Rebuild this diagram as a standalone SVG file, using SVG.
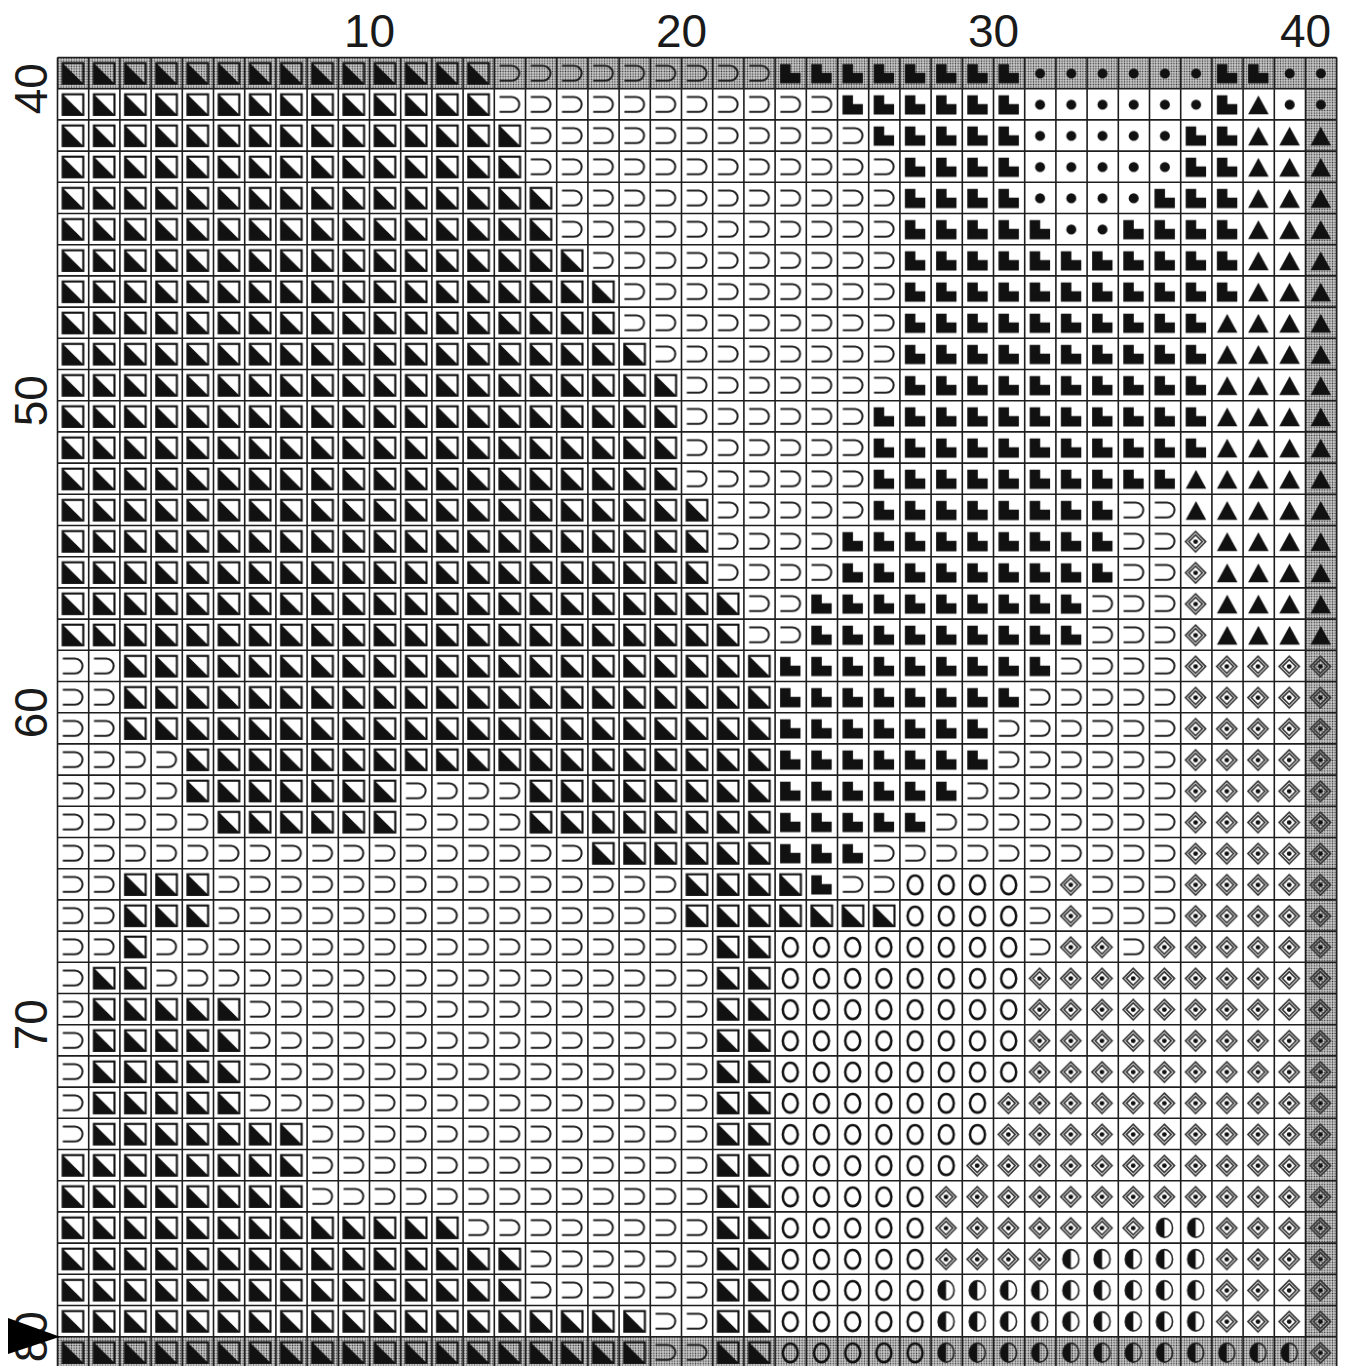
<svg xmlns="http://www.w3.org/2000/svg" width="1346" height="1366" viewBox="0 0 1346 1366">
<style>
.lbl{font-family:"Liberation Sans",Arial,sans-serif;font-size:46px;fill:#1a1a1a;text-anchor:middle}
.a{fill:url(#pA)}.b{fill:url(#pB)}.c{fill:url(#pC)}.d{fill:url(#pD)}.e{fill:url(#pE)}.f{fill:url(#pF)}.g{fill:url(#pG)}.h{fill:url(#pH)}
.sh{fill:url(#dots)}
</style>
<defs>
<pattern id="dots" patternUnits="userSpaceOnUse" width="2.6" height="2.6"><rect width="2.6" height="2.6" fill="#cfcfcf"/><circle cx="1.3" cy="1.3" r="0.8" fill="#3c3c3c"/></pattern>
<pattern id="pA" patternUnits="userSpaceOnUse" x="57.5" y="57.5" width="31.2" height="31.2"><rect x="5.2" y="5.6" width="20.6" height="20.6" fill="none" stroke="#111" stroke-width="2.1"/><path d="M5.2 5.6V26.2H25.8Z" fill="#111"/></pattern>
<pattern id="pB" patternUnits="userSpaceOnUse" x="57.5" y="57.5" width="31.2" height="31.2"><path d="M5.3 8.2H17.5A7.5 7.5 0 0 1 17.5 23.2H5.3" fill="none" stroke="#1e1e1e" stroke-width="2"/></pattern>
<pattern id="pC" patternUnits="userSpaceOnUse" x="57.5" y="57.5" width="31.2" height="31.2"><path d="M5 6.6H15.5V15.4H25.4V25.8H5Z" fill="#111"/></pattern>
<pattern id="pD" patternUnits="userSpaceOnUse" x="57.5" y="57.5" width="31.2" height="31.2"><circle cx="15.4" cy="16" r="5" fill="#111"/></pattern>
<pattern id="pE" patternUnits="userSpaceOnUse" x="57.5" y="57.5" width="31.2" height="31.2"><path d="M15.3 6.8L25.6 25.5H5Z" fill="#111"/></pattern>
<pattern id="pF" patternUnits="userSpaceOnUse" x="57.5" y="57.5" width="31.2" height="31.2"><path d="M14.9 6L25 16.2L14.9 26.4L4.8 16.2ZM14.9 9.4L21.7 16.2L14.9 23L8.1 16.2Z" fill="none" stroke="#333" stroke-width="1.6"/><circle cx="14.9" cy="16.2" r="2.4" fill="#111"/></pattern>
<pattern id="pG" patternUnits="userSpaceOnUse" x="57.5" y="57.5" width="31.2" height="31.2"><ellipse cx="15.2" cy="16.2" rx="7.5" ry="9.3" fill="none" stroke="#111" stroke-width="2.5"/></pattern>
<pattern id="pH" patternUnits="userSpaceOnUse" x="57.5" y="57.5" width="31.2" height="31.2"><ellipse cx="15" cy="16" rx="8" ry="9.5" fill="none" stroke="#222" stroke-width="1.6"/><path d="M15 6.5A8 9.5 0 0 0 15 25.5Z" fill="#111"/></pattern>
</defs>
<rect width="1346" height="1366" fill="#fff"/>
<g id="shading">
<rect class="sh" x="57.5" y="57.5" width="1279.2" height="31.2"/>
<rect class="sh" x="57.5" y="1336.7" width="1279.2" height="31.2"/>
<rect class="sh" x="1305.5" y="88.7" width="31.2" height="1248"/>
</g>
<g id="cells">
<rect class="a" x="57.5" y="57.5" width="436.8" height="31.2"/><rect class="b" x="494.3" y="57.5" width="280.8" height="31.2"/><rect class="c" x="775.1" y="57.5" width="249.6" height="31.2"/><rect class="d" x="1024.7" y="57.5" width="187.2" height="31.2"/><rect class="c" x="1211.9" y="57.5" width="62.4" height="31.2"/><rect class="d" x="1274.3" y="57.5" width="62.4" height="31.2"/>
<rect class="a" x="57.5" y="88.7" width="436.8" height="31.2"/><rect class="b" x="494.3" y="88.7" width="343.2" height="31.2"/><rect class="c" x="837.5" y="88.7" width="187.2" height="31.2"/><rect class="d" x="1024.7" y="88.7" width="187.2" height="31.2"/><rect class="c" x="1211.9" y="88.7" width="31.2" height="31.2"/><rect class="e" x="1243.1" y="88.7" width="31.2" height="31.2"/><rect class="d" x="1274.3" y="88.7" width="62.4" height="31.2"/>
<rect class="a" x="57.5" y="119.9" width="468" height="31.2"/><rect class="b" x="525.5" y="119.9" width="343.2" height="31.2"/><rect class="c" x="868.7" y="119.9" width="156" height="31.2"/><rect class="d" x="1024.7" y="119.9" width="156" height="31.2"/><rect class="c" x="1180.7" y="119.9" width="62.4" height="31.2"/><rect class="e" x="1243.1" y="119.9" width="93.6" height="31.2"/>
<rect class="a" x="57.5" y="151.1" width="468" height="31.2"/><rect class="b" x="525.5" y="151.1" width="374.4" height="31.2"/><rect class="c" x="899.9" y="151.1" width="124.8" height="31.2"/><rect class="d" x="1024.7" y="151.1" width="156" height="31.2"/><rect class="c" x="1180.7" y="151.1" width="62.4" height="31.2"/><rect class="e" x="1243.1" y="151.1" width="93.6" height="31.2"/>
<rect class="a" x="57.5" y="182.3" width="499.2" height="31.2"/><rect class="b" x="556.7" y="182.3" width="343.2" height="31.2"/><rect class="c" x="899.9" y="182.3" width="124.8" height="31.2"/><rect class="d" x="1024.7" y="182.3" width="124.8" height="31.2"/><rect class="c" x="1149.5" y="182.3" width="93.6" height="31.2"/><rect class="e" x="1243.1" y="182.3" width="93.6" height="31.2"/>
<rect class="a" x="57.5" y="213.5" width="499.2" height="31.2"/><rect class="b" x="556.7" y="213.5" width="343.2" height="31.2"/><rect class="c" x="899.9" y="213.5" width="156" height="31.2"/><rect class="d" x="1055.9" y="213.5" width="62.4" height="31.2"/><rect class="c" x="1118.3" y="213.5" width="124.8" height="31.2"/><rect class="e" x="1243.1" y="213.5" width="93.6" height="31.2"/>
<rect class="a" x="57.5" y="244.7" width="530.4" height="31.2"/><rect class="b" x="587.9" y="244.7" width="312" height="31.2"/><rect class="c" x="899.9" y="244.7" width="343.2" height="31.2"/><rect class="e" x="1243.1" y="244.7" width="93.6" height="31.2"/>
<rect class="a" x="57.5" y="275.9" width="561.6" height="31.2"/><rect class="b" x="619.1" y="275.9" width="280.8" height="31.2"/><rect class="c" x="899.9" y="275.9" width="343.2" height="31.2"/><rect class="e" x="1243.1" y="275.9" width="93.6" height="31.2"/>
<rect class="a" x="57.5" y="307.1" width="561.6" height="31.2"/><rect class="b" x="619.1" y="307.1" width="280.8" height="31.2"/><rect class="c" x="899.9" y="307.1" width="312" height="31.2"/><rect class="e" x="1211.9" y="307.1" width="124.8" height="31.2"/>
<rect class="a" x="57.5" y="338.3" width="592.8" height="31.2"/><rect class="b" x="650.3" y="338.3" width="249.6" height="31.2"/><rect class="c" x="899.9" y="338.3" width="312" height="31.2"/><rect class="e" x="1211.9" y="338.3" width="124.8" height="31.2"/>
<rect class="a" x="57.5" y="369.5" width="624" height="31.2"/><rect class="b" x="681.5" y="369.5" width="218.4" height="31.2"/><rect class="c" x="899.9" y="369.5" width="312" height="31.2"/><rect class="e" x="1211.9" y="369.5" width="124.8" height="31.2"/>
<rect class="a" x="57.5" y="400.7" width="624" height="62.4"/><rect class="b" x="681.5" y="400.7" width="187.2" height="62.4"/><rect class="c" x="868.7" y="400.7" width="343.2" height="62.4"/><rect class="e" x="1211.9" y="400.7" width="124.8" height="62.4"/>
<rect class="a" x="57.5" y="463.1" width="624" height="31.2"/><rect class="b" x="681.5" y="463.1" width="187.2" height="31.2"/><rect class="c" x="868.7" y="463.1" width="312" height="31.2"/><rect class="e" x="1180.7" y="463.1" width="156" height="31.2"/>
<rect class="a" x="57.5" y="494.3" width="655.2" height="31.2"/><rect class="b" x="712.7" y="494.3" width="156" height="31.2"/><rect class="c" x="868.7" y="494.3" width="249.6" height="31.2"/><rect class="b" x="1118.3" y="494.3" width="62.4" height="31.2"/><rect class="e" x="1180.7" y="494.3" width="156" height="31.2"/>
<rect class="a" x="57.5" y="525.5" width="655.2" height="62.4"/><rect class="b" x="712.7" y="525.5" width="124.8" height="62.4"/><rect class="c" x="837.5" y="525.5" width="280.8" height="62.4"/><rect class="b" x="1118.3" y="525.5" width="62.4" height="62.4"/><rect class="f" x="1180.7" y="525.5" width="31.2" height="62.4"/><rect class="e" x="1211.9" y="525.5" width="124.8" height="62.4"/>
<rect class="a" x="57.5" y="587.9" width="686.4" height="62.4"/><rect class="b" x="743.9" y="587.9" width="62.4" height="62.4"/><rect class="c" x="806.3" y="587.9" width="280.8" height="62.4"/><rect class="b" x="1087.1" y="587.9" width="93.6" height="62.4"/><rect class="f" x="1180.7" y="587.9" width="31.2" height="62.4"/><rect class="e" x="1211.9" y="587.9" width="124.8" height="62.4"/>
<rect class="b" x="57.5" y="650.3" width="62.4" height="31.2"/><rect class="a" x="119.9" y="650.3" width="655.2" height="31.2"/><rect class="c" x="775.1" y="650.3" width="280.8" height="31.2"/><rect class="b" x="1055.9" y="650.3" width="124.8" height="31.2"/><rect class="f" x="1180.7" y="650.3" width="156" height="31.2"/>
<rect class="b" x="57.5" y="681.5" width="62.4" height="31.2"/><rect class="a" x="119.9" y="681.5" width="655.2" height="31.2"/><rect class="c" x="775.1" y="681.5" width="249.6" height="31.2"/><rect class="b" x="1024.7" y="681.5" width="156" height="31.2"/><rect class="f" x="1180.7" y="681.5" width="156" height="31.2"/>
<rect class="b" x="57.5" y="712.7" width="62.4" height="31.2"/><rect class="a" x="119.9" y="712.7" width="655.2" height="31.2"/><rect class="c" x="775.1" y="712.7" width="218.4" height="31.2"/><rect class="b" x="993.5" y="712.7" width="187.2" height="31.2"/><rect class="f" x="1180.7" y="712.7" width="156" height="31.2"/>
<rect class="b" x="57.5" y="743.9" width="124.8" height="31.2"/><rect class="a" x="182.3" y="743.9" width="592.8" height="31.2"/><rect class="c" x="775.1" y="743.9" width="218.4" height="31.2"/><rect class="b" x="993.5" y="743.9" width="187.2" height="31.2"/><rect class="f" x="1180.7" y="743.9" width="156" height="31.2"/>
<rect class="b" x="57.5" y="775.1" width="124.8" height="31.2"/><rect class="a" x="182.3" y="775.1" width="218.4" height="31.2"/><rect class="b" x="400.7" y="775.1" width="124.8" height="31.2"/><rect class="a" x="525.5" y="775.1" width="249.6" height="31.2"/><rect class="c" x="775.1" y="775.1" width="187.2" height="31.2"/><rect class="b" x="962.3" y="775.1" width="218.4" height="31.2"/><rect class="f" x="1180.7" y="775.1" width="156" height="31.2"/>
<rect class="b" x="57.5" y="806.3" width="156" height="31.2"/><rect class="a" x="213.5" y="806.3" width="187.2" height="31.2"/><rect class="b" x="400.7" y="806.3" width="124.8" height="31.2"/><rect class="a" x="525.5" y="806.3" width="249.6" height="31.2"/><rect class="c" x="775.1" y="806.3" width="156" height="31.2"/><rect class="b" x="931.1" y="806.3" width="249.6" height="31.2"/><rect class="f" x="1180.7" y="806.3" width="156" height="31.2"/>
<rect class="b" x="57.5" y="837.5" width="530.4" height="31.2"/><rect class="a" x="587.9" y="837.5" width="187.2" height="31.2"/><rect class="c" x="775.1" y="837.5" width="93.6" height="31.2"/><rect class="b" x="868.7" y="837.5" width="312" height="31.2"/><rect class="f" x="1180.7" y="837.5" width="156" height="31.2"/>
<rect class="b" x="57.5" y="868.7" width="62.4" height="31.2"/><rect class="a" x="119.9" y="868.7" width="93.6" height="31.2"/><rect class="b" x="213.5" y="868.7" width="468" height="31.2"/><rect class="a" x="681.5" y="868.7" width="124.8" height="31.2"/><rect class="c" x="806.3" y="868.7" width="31.2" height="31.2"/><rect class="b" x="837.5" y="868.7" width="62.4" height="31.2"/><rect class="g" x="899.9" y="868.7" width="124.8" height="31.2"/><rect class="b" x="1024.7" y="868.7" width="31.2" height="31.2"/><rect class="f" x="1055.9" y="868.7" width="31.2" height="31.2"/><rect class="b" x="1087.1" y="868.7" width="93.6" height="31.2"/><rect class="f" x="1180.7" y="868.7" width="156" height="31.2"/>
<rect class="b" x="57.5" y="899.9" width="62.4" height="31.2"/><rect class="a" x="119.9" y="899.9" width="93.6" height="31.2"/><rect class="b" x="213.5" y="899.9" width="468" height="31.2"/><rect class="a" x="681.5" y="899.9" width="218.4" height="31.2"/><rect class="g" x="899.9" y="899.9" width="124.8" height="31.2"/><rect class="b" x="1024.7" y="899.9" width="31.2" height="31.2"/><rect class="f" x="1055.9" y="899.9" width="31.2" height="31.2"/><rect class="b" x="1087.1" y="899.9" width="93.6" height="31.2"/><rect class="f" x="1180.7" y="899.9" width="156" height="31.2"/>
<rect class="b" x="57.5" y="931.1" width="62.4" height="31.2"/><rect class="a" x="119.9" y="931.1" width="31.2" height="31.2"/><rect class="b" x="151.1" y="931.1" width="561.6" height="31.2"/><rect class="a" x="712.7" y="931.1" width="62.4" height="31.2"/><rect class="g" x="775.1" y="931.1" width="249.6" height="31.2"/><rect class="b" x="1024.7" y="931.1" width="31.2" height="31.2"/><rect class="f" x="1055.9" y="931.1" width="62.4" height="31.2"/><rect class="b" x="1118.3" y="931.1" width="31.2" height="31.2"/><rect class="f" x="1149.5" y="931.1" width="187.2" height="31.2"/>
<rect class="b" x="57.5" y="962.3" width="31.2" height="31.2"/><rect class="a" x="88.7" y="962.3" width="62.4" height="31.2"/><rect class="b" x="151.1" y="962.3" width="561.6" height="31.2"/><rect class="a" x="712.7" y="962.3" width="62.4" height="31.2"/><rect class="g" x="775.1" y="962.3" width="249.6" height="31.2"/><rect class="f" x="1024.7" y="962.3" width="312" height="31.2"/>
<rect class="b" x="57.5" y="993.5" width="31.2" height="93.6"/><rect class="a" x="88.7" y="993.5" width="156" height="93.6"/><rect class="b" x="244.7" y="993.5" width="468" height="93.6"/><rect class="a" x="712.7" y="993.5" width="62.4" height="93.6"/><rect class="g" x="775.1" y="993.5" width="249.6" height="93.6"/><rect class="f" x="1024.7" y="993.5" width="312" height="93.6"/>
<rect class="b" x="57.5" y="1087.1" width="31.2" height="31.2"/><rect class="a" x="88.7" y="1087.1" width="156" height="31.2"/><rect class="b" x="244.7" y="1087.1" width="468" height="31.2"/><rect class="a" x="712.7" y="1087.1" width="62.4" height="31.2"/><rect class="g" x="775.1" y="1087.1" width="218.4" height="31.2"/><rect class="f" x="993.5" y="1087.1" width="343.2" height="31.2"/>
<rect class="b" x="57.5" y="1118.3" width="31.2" height="31.2"/><rect class="a" x="88.7" y="1118.3" width="218.4" height="31.2"/><rect class="b" x="307.1" y="1118.3" width="405.6" height="31.2"/><rect class="a" x="712.7" y="1118.3" width="62.4" height="31.2"/><rect class="g" x="775.1" y="1118.3" width="218.4" height="31.2"/><rect class="f" x="993.5" y="1118.3" width="343.2" height="31.2"/>
<rect class="a" x="57.5" y="1149.5" width="249.6" height="31.2"/><rect class="b" x="307.1" y="1149.5" width="405.6" height="31.2"/><rect class="a" x="712.7" y="1149.5" width="62.4" height="31.2"/><rect class="g" x="775.1" y="1149.5" width="187.2" height="31.2"/><rect class="f" x="962.3" y="1149.5" width="374.4" height="31.2"/>
<rect class="a" x="57.5" y="1180.7" width="249.6" height="31.2"/><rect class="b" x="307.1" y="1180.7" width="405.6" height="31.2"/><rect class="a" x="712.7" y="1180.7" width="62.4" height="31.2"/><rect class="g" x="775.1" y="1180.7" width="156" height="31.2"/><rect class="f" x="931.1" y="1180.7" width="405.6" height="31.2"/>
<rect class="a" x="57.5" y="1211.9" width="405.6" height="31.2"/><rect class="b" x="463.1" y="1211.9" width="249.6" height="31.2"/><rect class="a" x="712.7" y="1211.9" width="62.4" height="31.2"/><rect class="g" x="775.1" y="1211.9" width="156" height="31.2"/><rect class="f" x="931.1" y="1211.9" width="218.4" height="31.2"/><rect class="h" x="1149.5" y="1211.9" width="62.4" height="31.2"/><rect class="f" x="1211.9" y="1211.9" width="124.8" height="31.2"/>
<rect class="a" x="57.5" y="1243.1" width="468" height="31.2"/><rect class="b" x="525.5" y="1243.1" width="187.2" height="31.2"/><rect class="a" x="712.7" y="1243.1" width="62.4" height="31.2"/><rect class="g" x="775.1" y="1243.1" width="156" height="31.2"/><rect class="f" x="931.1" y="1243.1" width="124.8" height="31.2"/><rect class="h" x="1055.9" y="1243.1" width="156" height="31.2"/><rect class="f" x="1211.9" y="1243.1" width="124.8" height="31.2"/>
<rect class="a" x="57.5" y="1274.3" width="468" height="31.2"/><rect class="b" x="525.5" y="1274.3" width="187.2" height="31.2"/><rect class="a" x="712.7" y="1274.3" width="62.4" height="31.2"/><rect class="g" x="775.1" y="1274.3" width="156" height="31.2"/><rect class="h" x="931.1" y="1274.3" width="280.8" height="31.2"/><rect class="f" x="1211.9" y="1274.3" width="124.8" height="31.2"/>
<rect class="a" x="57.5" y="1305.5" width="592.8" height="31.2"/><rect class="b" x="650.3" y="1305.5" width="62.4" height="31.2"/><rect class="a" x="712.7" y="1305.5" width="62.4" height="31.2"/><rect class="g" x="775.1" y="1305.5" width="156" height="31.2"/><rect class="h" x="931.1" y="1305.5" width="280.8" height="31.2"/><rect class="f" x="1211.9" y="1305.5" width="124.8" height="31.2"/>
<rect class="a" x="57.5" y="1336.7" width="592.8" height="31.2"/><rect class="b" x="650.3" y="1336.7" width="62.4" height="31.2"/><rect class="a" x="712.7" y="1336.7" width="62.4" height="31.2"/><rect class="g" x="775.1" y="1336.7" width="156" height="31.2"/><rect class="h" x="931.1" y="1336.7" width="374.4" height="31.2"/><rect class="f" x="1305.5" y="1336.7" width="31.2" height="31.2"/>
</g>
<g id="grid" fill="none" stroke="#1e1e1e" stroke-width="1.6">
<path d="M57.5 57.5V1368M88.7 57.5V1368M119.9 57.5V1368M151.1 57.5V1368M182.3 57.5V1368M213.5 57.5V1368M244.7 57.5V1368M275.9 57.5V1368M307.1 57.5V1368M338.3 57.5V1368M369.5 57.5V1368M400.7 57.5V1368M431.9 57.5V1368M463.1 57.5V1368M494.3 57.5V1368M525.5 57.5V1368M556.7 57.5V1368M587.9 57.5V1368M619.1 57.5V1368M650.3 57.5V1368M681.5 57.5V1368M712.7 57.5V1368M743.9 57.5V1368M775.1 57.5V1368M806.3 57.5V1368M837.5 57.5V1368M868.7 57.5V1368M899.9 57.5V1368M931.1 57.5V1368M962.3 57.5V1368M993.5 57.5V1368M1024.7 57.5V1368M1055.9 57.5V1368M1087.1 57.5V1368M1118.3 57.5V1368M1149.5 57.5V1368M1180.7 57.5V1368M1211.9 57.5V1368M1243.1 57.5V1368M1274.3 57.5V1368M1305.5 57.5V1368M1336.7 57.5V1368"/>
<path d="M57.5 57.5H1336.7M57.5 88.7H1336.7M57.5 119.9H1336.7M57.5 151.1H1336.7M57.5 182.3H1336.7M57.5 213.5H1336.7M57.5 244.7H1336.7M57.5 275.9H1336.7M57.5 307.1H1336.7M57.5 338.3H1336.7M57.5 369.5H1336.7M57.5 400.7H1336.7M57.5 431.9H1336.7M57.5 463.1H1336.7M57.5 494.3H1336.7M57.5 525.5H1336.7M57.5 556.7H1336.7M57.5 587.9H1336.7M57.5 619.1H1336.7M57.5 650.3H1336.7M57.5 681.5H1336.7M57.5 712.7H1336.7M57.5 743.9H1336.7M57.5 775.1H1336.7M57.5 806.3H1336.7M57.5 837.5H1336.7M57.5 868.7H1336.7M57.5 899.9H1336.7M57.5 931.1H1336.7M57.5 962.3H1336.7M57.5 993.5H1336.7M57.5 1024.7H1336.7M57.5 1055.9H1336.7M57.5 1087.1H1336.7M57.5 1118.3H1336.7M57.5 1149.5H1336.7M57.5 1180.7H1336.7M57.5 1211.9H1336.7M57.5 1243.1H1336.7M57.5 1274.3H1336.7M57.5 1305.5H1336.7M57.5 1336.7H1336.7"/>
</g>
<g id="labels">
<text class="lbl" x="369.5" y="47">10</text>
<text class="lbl" x="681.5" y="47">20</text>
<text class="lbl" x="993.5" y="47">30</text>
<text class="lbl" x="1305.5" y="47">40</text>
<text class="lbl" transform="translate(47 88.7) rotate(-90)">40</text>
<text class="lbl" transform="translate(47 400.7) rotate(-90)">50</text>
<text class="lbl" transform="translate(47 712.7) rotate(-90)">60</text>
<text class="lbl" transform="translate(47 1024.7) rotate(-90)">70</text>
<text class="lbl" transform="translate(47 1336.7) rotate(-90)">80</text>
</g>
<path id="marker" d="M8 1318L60 1336.7L8 1354Z" fill="#000"/>
</svg>
